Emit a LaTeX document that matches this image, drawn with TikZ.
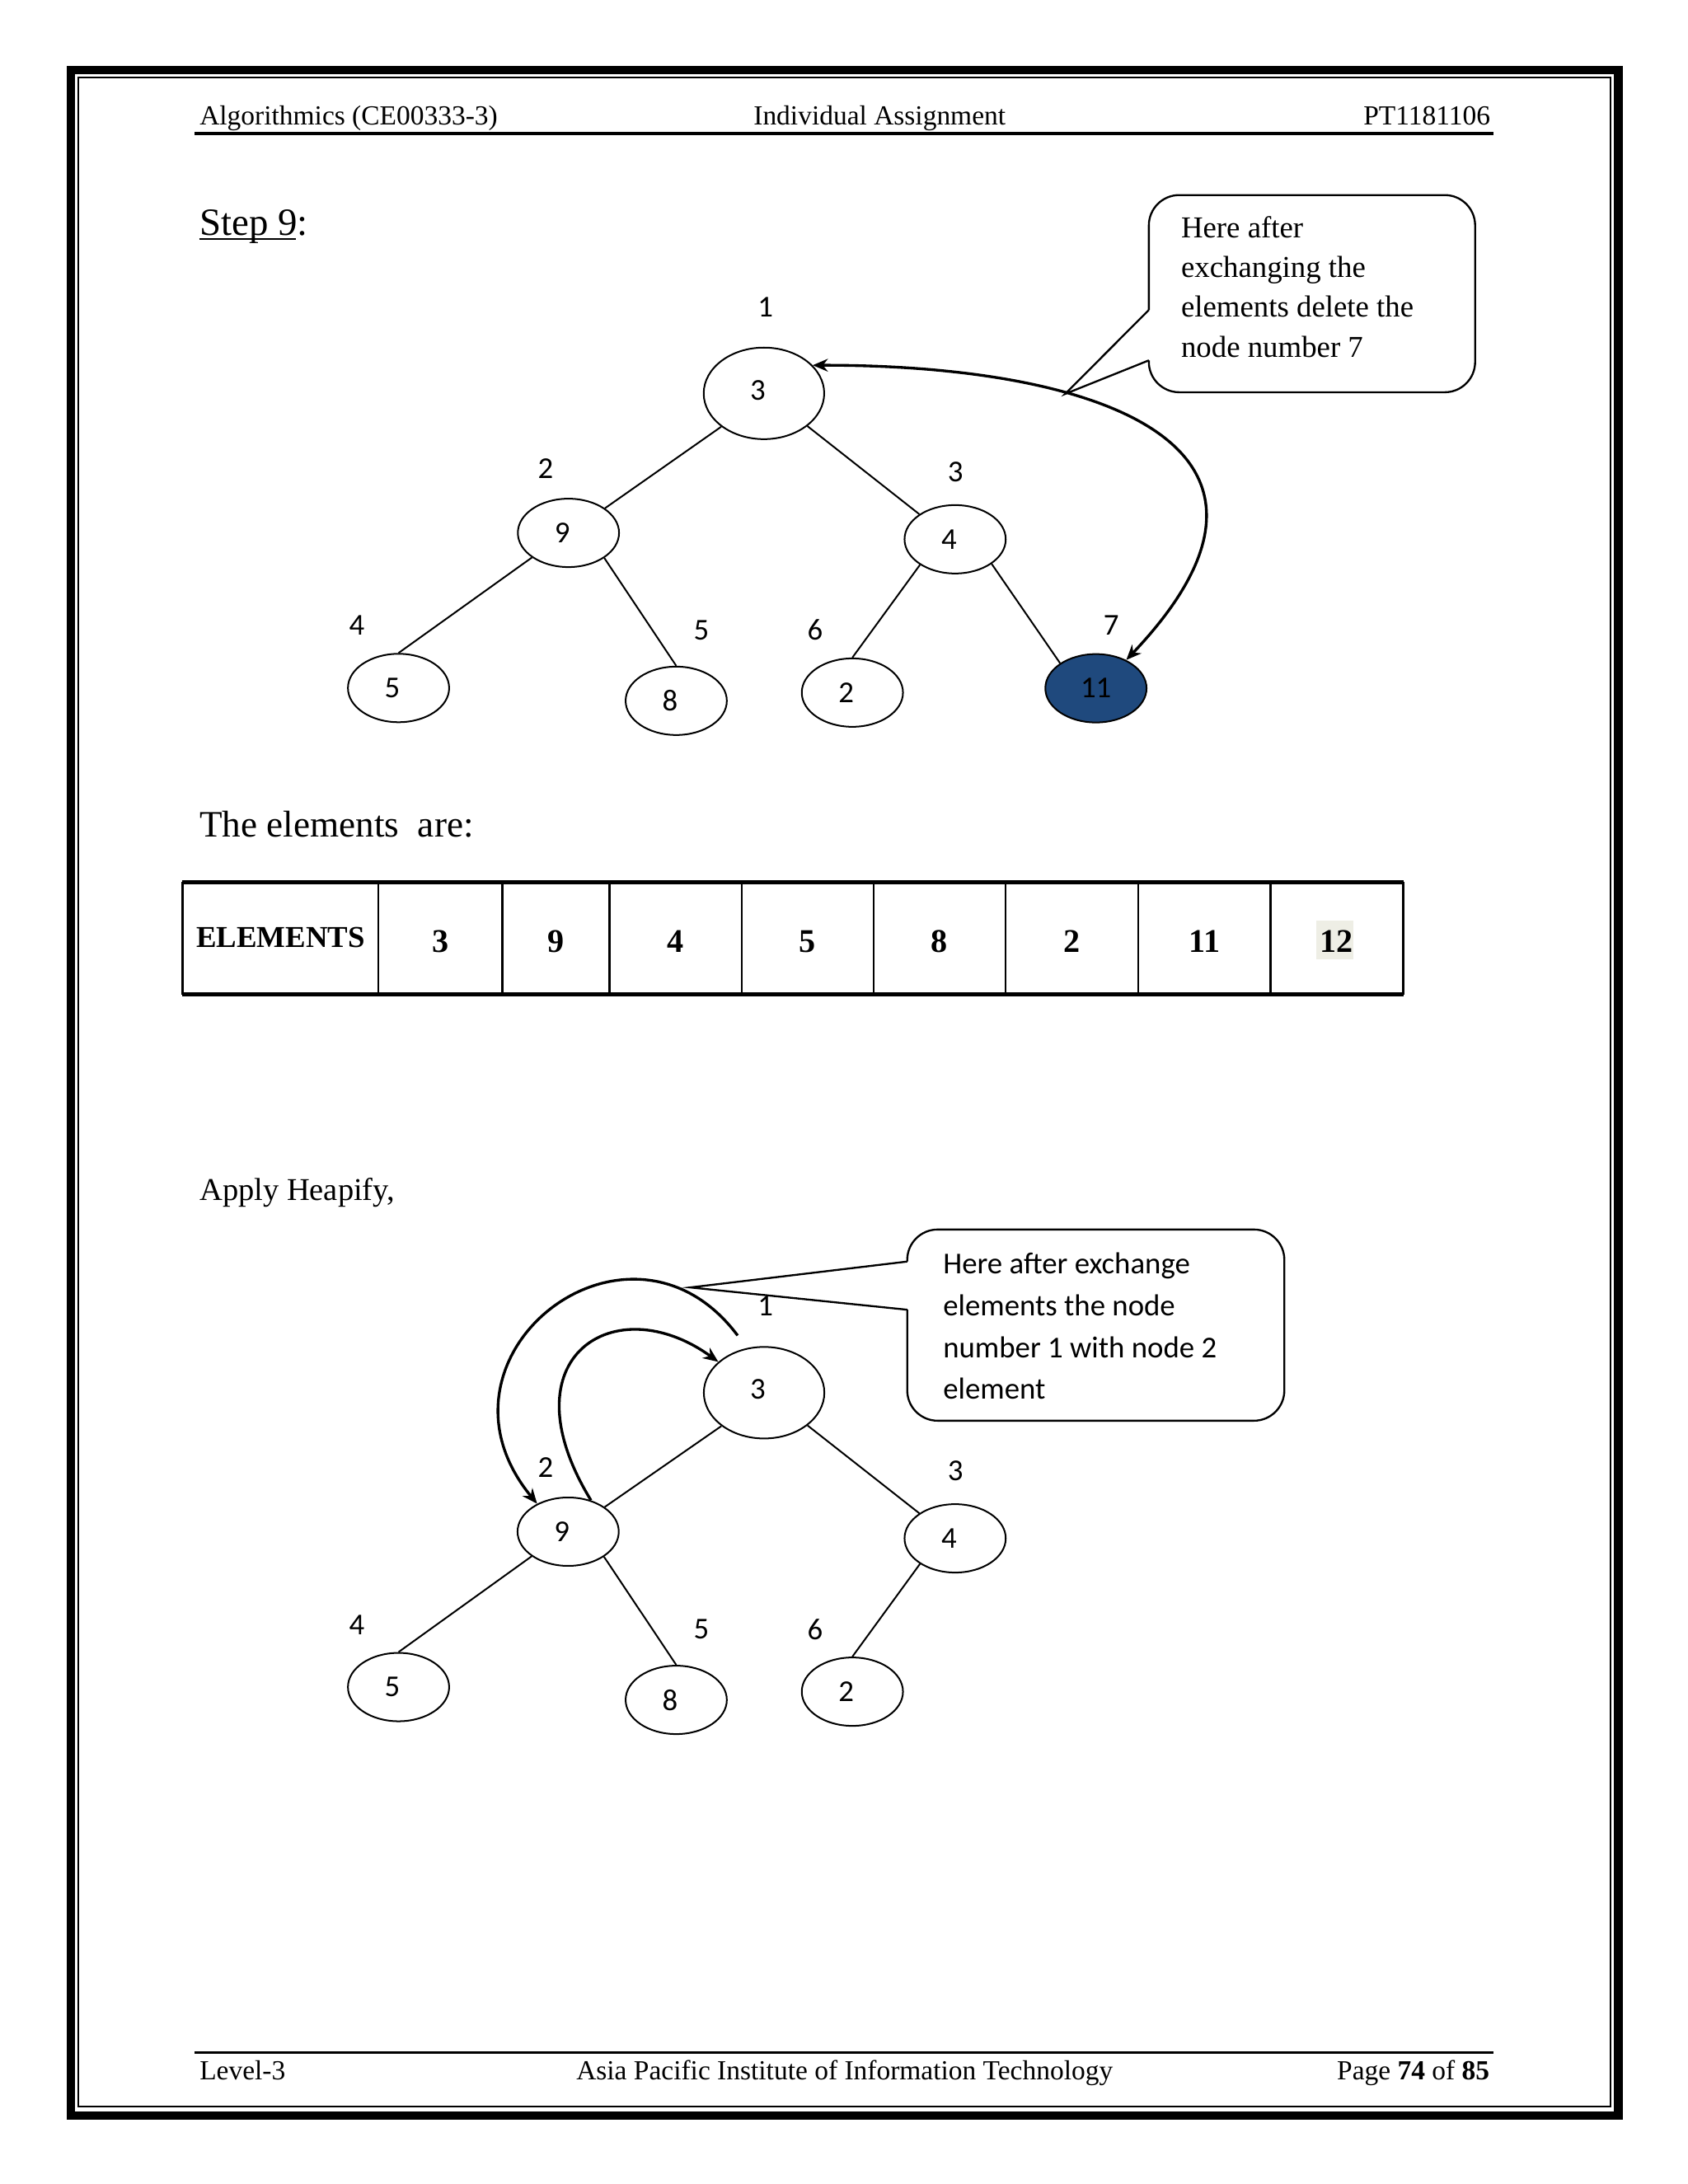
\documentclass[tikz,border=0pt]{standalone}
\usepackage{fontspec}
\setmainfont{Liberation Serif}
\newfontfamily\calib{Carlito}
\usetikzlibrary{arrows.meta,shapes.geometric}
\definecolor{nodeblue}{RGB}{31,73,125}
\definecolor{hlgray}{RGB}{238,238,229}
\newcommand\ntxt[1]{\makebox[0pt]{#1\hspace{4.5pt}}}
\begin{document}
\begin{tikzpicture}[x=0.50495pt,y=-0.50495pt,
  >={Stealth[length=5.5pt,width=4.6pt]},
  vnode/.style={draw, ellipse, line width=0.6pt, inner sep=0pt, minimum width=36.7pt, minimum height=24.8pt, font=\calib\fontsize{11}{13}\selectfont},
  bignode/.style={vnode, minimum width=43.7pt, minimum height=33.2pt},
  poslbl/.style={inner sep=0pt, font=\calib\fontsize{11}{13}\selectfont},
  treeline/.style={line width=0.6pt},
  xarrow/.style={line width=1pt},
  callout/.style={line width=0.7pt},
  hdr/.style={inner sep=0pt, font=\fontsize{10}{12}\selectfont},
  tcell/.style={inner sep=0pt, font=\bfseries\fontsize{12}{14}\selectfont}]
\useasboundingbox (0pt,0pt) rectangle (612pt,-792pt);
\fill[white] (0pt,0pt) rectangle (612pt,-792pt);

% page border
\draw[line width=3.2pt] (50.9,50.3) rectangle (1162,1519.3);
\draw[line width=0.6pt] (56.4,55.8) rectangle (1156.5,1513);

% header
\node[hdr, anchor=base west] (h1) at (143,89.8) {Algorithmics (CE00333-3)};
\node[hdr, anchor=base west] (h2) at (540.8,89.8) {Individual Assignment};
\node[hdr, anchor=base east] (h3) at (1070.5,89.8) {PT1181106};
\draw[line width=1.1pt] (139.8,95.7) -- (1072.3,95.7);

% footer
\draw[line width=1.1pt] (139.8,1474) -- (1072.3,1474);
\node[hdr, anchor=base west] (f1) at (143,1493.7) {Level-3};
\node[hdr, anchor=base] (f2) at (606.5,1493.7) {Asia Pacific Institute of Information Technology};
\node[hdr, anchor=base east] (f3) at (1070,1493.7) {Page \textbf{74} of \textbf{85}};

% titles
\node[anchor=base west, inner sep=0pt, font=\fontsize{14}{16}\selectfont] (step) at (143,168.7) {Step 9:};
\draw[line width=0.7pt] (143,171.8) -- (212.5,171.8);
\node[anchor=base west, inner sep=0pt, font=\fontsize{13.5}{16}\selectfont] (elt) at (143,601) {The elements\ \ are:};
\node[anchor=base west, inner sep=0pt, font=\fontsize{11.5}{14}\selectfont] (heap) at (143,862) {Apply Heapify,};

% ---------- tree 1 ----------
\node[bignode] (r1) at (548.6,282.5) {\ntxt{\raisebox{2.5pt}{3}}};
\node[vnode] (a9) at (408.2,382.7) {\ntxt{9}};
\node[vnode] (a4) at (685.9,387.3) {\ntxt{4}};
\node[vnode] (a5) at (286.2,494.1) {\ntxt{5}};
\node[vnode] (a8) at (485.6,503.3) {\ntxt{8}};
\node[vnode] (a2) at (612.1,497.4) {\ntxt{2}};
\node[vnode, fill=nodeblue] (a11) at (787,494.3) {11};

\node[poslbl] (p1) at (549.7,220.4) {1};
\node[poslbl] (p2) at (391.8,336.5) {2};
\node[poslbl] (p3) at (686.1,339.1) {3};
\node[poslbl] (p4) at (256.3,449.2) {4};
\node[poslbl] (p5) at (503.7,452.5) {5};
\node[poslbl] (p6) at (585.4,452.5) {6};
\node[poslbl] (p7) at (798,449.2) {7};

\draw[treeline] (r1.218) -- (a9.34);
\draw[treeline] (r1.-37) -- (a4.145);
\draw[treeline] (a9.214) -- (a5.north);
\draw[treeline] (a9.-35) -- (a8.north);
\draw[treeline] (a4.216) -- (a2.north);
\draw[treeline] (a4.-34) -- (a11.145);

\draw[xarrow,<->] (r1.30) .. controls (790,262) and (955,320) .. (a11.43);

% callout 1
\draw[callout] (825,258.8) [rounded corners=11pt] -- (825,281.7) -- (1059.3,281.7) -- (1059.3,140.1) -- (825,140.1) -- (825,222.6);
\draw[callout] (825,222.6) -- (764.9,282.9) -- (825,258.8);
\node[anchor=base west, inner sep=0pt] (c1) at (847.8,170.6)
  {\parbox[t]{120pt}{\raggedright\fontsize{11}{14.45}\selectfont Here after\\exchanging the\\elements delete the\\node number 7}};

% ---------- table ----------
\fill[hlgray] (945,661) rectangle (972,689);
\foreach \xx in {131.2,271.6,360.6,437.7,532.6,627.3,722.1,817.4,912.2,1007.6}
  \draw[line width=0.8pt] (\xx,633.6) -- (\xx,714.1);
\draw[line width=1.3pt] (130.7,633.6) -- (1008.1,633.6);
\draw[line width=1.3pt] (130.7,714.1) -- (1008.1,714.1);
\node[inner sep=0pt, font=\bfseries\fontsize{11}{13}\selectfont] (te) at (201.5,673) {ELEMENTS};
\node[tcell] (t1) at (316.1,676) {3};
\node[tcell] (t2) at (399.2,676) {9};
\node[tcell] (t3) at (485.2,676) {4};
\node[tcell] (t4) at (580,676) {5};
\node[tcell] (t5) at (674.7,676) {8};
\node[tcell] (t6) at (769.7,676) {2};
\node[tcell] (t7) at (864.8,676) {11};
\node[tcell] (t8) at (959.9,676) {12};

% ---------- tree 2 ----------
\node[bignode] (b3) at (548.7,1000.2) {\ntxt{\raisebox{2.5pt}{3}}};
\node[vnode] (b9) at (408,1100) {\ntxt{9}};
\node[vnode] (b4) at (685.9,1104.8) {\ntxt{4}};
\node[vnode] (b5) at (286.2,1211.6) {\ntxt{5}};
\node[vnode] (b8) at (485.6,1220.8) {\ntxt{8}};
\node[vnode] (b2) at (612.1,1214.9) {\ntxt{2}};

\node[poslbl] (q1) at (549.7,937.9) {1};
\node[poslbl] (q2) at (391.8,1054) {2};
\node[poslbl] (q3) at (686.1,1056.6) {3};
\node[poslbl] (q4) at (256.3,1166.7) {4};
\node[poslbl] (q5) at (503.7,1170) {5};
\node[poslbl] (q6) at (585.4,1170) {6};

\draw[treeline] (b3.218) -- (b9.34);
\draw[treeline] (b3.-37) -- (b4.145);
\draw[treeline] (b9.214) -- (b5.north);
\draw[treeline] (b9.-35) -- (b8.north);
\draw[treeline] (b4.216) -- (b2.north);

\coordinate (oa) at (529.7,959.1);
\draw[xarrow,->] (oa) .. controls (451.5,854.6) and (298.6,974.1) .. (b9.138);
\draw[xarrow,->] (b9.54) .. controls (361.3,974.3) and (441.8,924.3) .. (b3.146);

% callout 2
\draw[callout] (651.5,940.6) [rounded corners=11pt] -- (651.5,1020.3) -- (922.3,1020.3) -- (922.3,883) -- (651.5,883) -- (651.5,906);
\draw[callout] (651.5,906) -- (495.7,924.6) -- (651.5,940.6);
\node[anchor=base west, inner sep=0pt] (c2) at (676.9,914.9)
  {\parbox[t]{130pt}{\raggedright\calib\fontsize{11}{15.15}\selectfont Here after exchange\\elements the node\\number 1 with node 2\\element}};
\end{tikzpicture}
\end{document}
